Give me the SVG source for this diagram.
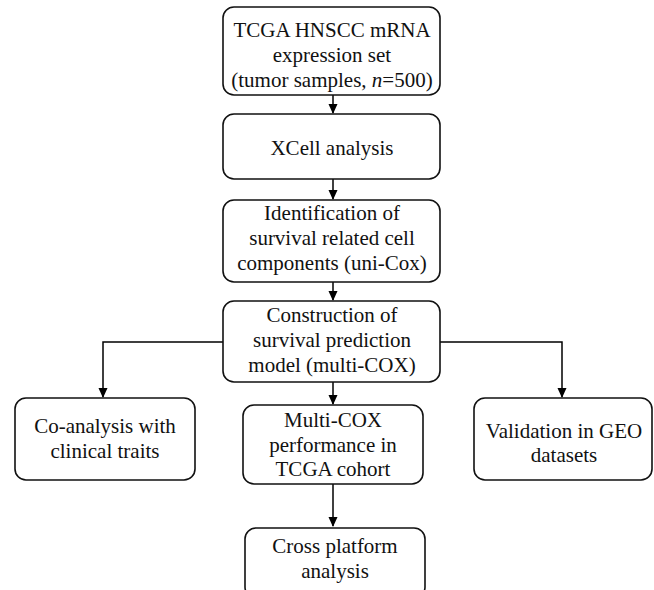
<svg xmlns="http://www.w3.org/2000/svg" width="654" height="590" viewBox="0 0 654 590">
<defs>
<marker id="ah" markerWidth="10" markerHeight="11" refX="10" refY="5" orient="auto" markerUnits="userSpaceOnUse" viewBox="0 0 11 10">
<path d="M0,0 L11,5 L0,10 Z" fill="#000"/>
</marker>
<style>
.box{fill:#fff;stroke:#111;stroke-width:1.6}
.t{font-family:"Liberation Serif","Times New Roman",serif;font-size:21px;fill:#111;text-anchor:middle}
.c{fill:none;stroke:#000;stroke-width:1.5}
</style>
</defs>
<rect width="654" height="590" fill="#fff"/>
<g id="connectors">
<line class="c" x1="333" y1="95" x2="333" y2="113" marker-end="url(#ah)"/>
<line class="c" x1="333" y1="179" x2="333" y2="199" marker-end="url(#ah)"/>
<line class="c" x1="333" y1="282" x2="333" y2="300" marker-end="url(#ah)"/>
<line class="c" x1="333" y1="382" x2="333" y2="404" marker-end="url(#ah)"/>
<line class="c" x1="333" y1="484" x2="333" y2="526" marker-end="url(#ah)"/>
<polyline class="c" points="223,342 103,342 103,397" marker-end="url(#ah)"/>
<polyline class="c" points="440,342 562,342 562,397" marker-end="url(#ah)"/>
</g>
<g id="n1">
<rect class="box" x="223" y="7" width="217" height="88" rx="11"/>
<text class="t" x="332" y="37">TCGA HNSCC mRNA</text>
<text class="t" x="332" y="62">expression set</text>
<text class="t" x="332" y="87">(tumor samples, <tspan font-style="italic">n</tspan>=500)</text>
</g>
<g id="n2">
<rect class="box" x="223" y="114" width="217" height="65" rx="11"/>
<text class="t" x="332" y="155">XCell analysis</text>
</g>
<g id="n3">
<rect class="box" x="223" y="200" width="217" height="82" rx="11"/>
<text class="t" x="332" y="220">Identification of</text>
<text class="t" x="332" y="245">survival related cell</text>
<text class="t" x="332" y="270">components (uni-Cox)</text>
</g>
<g id="n4">
<rect class="box" x="223" y="301" width="217" height="81" rx="11"/>
<text class="t" x="332" y="322">Construction of</text>
<text class="t" x="332" y="347">survival prediction</text>
<text class="t" x="332" y="372">model (multi-COX)</text>
</g>
<g id="n5">
<rect class="box" x="15" y="398" width="180" height="82" rx="11"/>
<text class="t" x="105" y="433">Co-analysis with</text>
<text class="t" x="105" y="458">clinical traits</text>
</g>
<g id="n6">
<rect class="box" x="243" y="405" width="180" height="79" rx="11"/>
<text class="t" x="333" y="427">Multi-COX</text>
<text class="t" x="333" y="452">performance in</text>
<text class="t" x="333" y="476">TCGA cohort</text>
</g>
<g id="n7">
<rect class="box" x="474" y="398" width="178" height="82" rx="11"/>
<text class="t" x="564" y="438">Validation in GEO</text>
<text class="t" x="564" y="462">datasets</text>
</g>
<g id="n8">
<rect class="box" x="245" y="528" width="180" height="70" rx="11"/>
<text class="t" x="335" y="553">Cross platform</text>
<text class="t" x="335" y="578">analysis</text>
</g>
</svg>
